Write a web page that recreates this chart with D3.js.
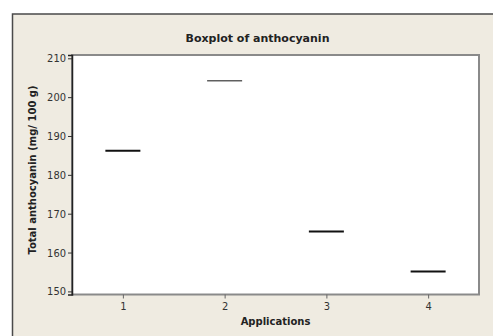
<!DOCTYPE html>
<html>
<head>
<meta charset="utf-8">
<script src="https://cdn.jsdelivr.net/npm/d3@7"></script>
<style>
  body { margin: 0; background: #fff; }
  svg { display: block; }
</style>
</head>
<body>
<script>
// Chart data
var applications = [1, 2, 3, 4];
var anthocyanin = [186.2, 204.2, 165.4, 155.1];
var yTicks = [150, 160, 170, 180, 190, 200, 210];

var width = 493,
    height = 336;

var margin = {top: 55, right: 14, bottom: 41, left: 72};
var plotW = 479 - margin.left,
    plotH = 294.5 - margin.top;

var svg = d3.select("body").append("svg")
    .attr("width", width)
    .attr("height", height);

// Beige frame
svg.append("rect")
    .attr("x", 12.5).attr("y", 14)
    .attr("width", 500).attr("height", 340)
    .attr("fill", "#efebe1")
    .attr("stroke", "#4a4a4a")
    .attr("stroke-width", 1.5);

var x = d3.scaleLinear().domain([0.5, 4.5]).range([0, plotW]);
var y = d3.scaleLinear().domain([149.2, 210.85]).range([plotH, 0]);

var tickFont = "'DejaVu Sans Condensed', 'DejaVu Sans', sans-serif";
var boldFont = "'DejaVu Sans', sans-serif";

var g = svg.append("g")
    .attr("transform", "translate(" + margin.left + "," + margin.top + ")");

// plot area with gray border
g.append("rect")
    .attr("width", plotW).attr("height", plotH)
    .attr("fill", "#fff")
    .attr("stroke", "#8a8a8a")
    .attr("stroke-width", 2);

// left axis
var yAxis = g.append("g")
    .call(d3.axisLeft(y).tickValues(yTicks).tickFormat(d3.format("d")).tickSize(4).tickPadding(2));
yAxis.select(".domain").attr("stroke", "#222").attr("stroke-width", 1.5);
yAxis.selectAll(".tick line").attr("stroke", "#333");
yAxis.selectAll("text")
    .attr("fill", "#333")
    .style("font-family", tickFont)
    .style("font-size", "11px");

// bottom axis
var xAxis = g.append("g")
    .attr("transform", "translate(0," + plotH + ")")
    .call(d3.axisBottom(x).tickValues(applications).tickFormat(d3.format("d")).tickSize(4).tickPadding(4));
xAxis.select(".domain").remove();
xAxis.selectAll(".tick line").attr("stroke", "#666");
xAxis.selectAll("text")
    .attr("fill", "#333")
    .style("font-family", tickFont)
    .style("font-size", "11px");

// median lines
g.selectAll(".median")
    .data(applications)
  .enter().append("line")
    .attr("class", "median")
    .attr("x1", function(d) { return x(d - 0.172); })
    .attr("x2", function(d) { return x(d + 0.172); })
    .attr("y1", function(d, i) { return y(anthocyanin[i]); })
    .attr("y2", function(d, i) { return y(anthocyanin[i]); })
    .attr("stroke", "#111")
    .attr("stroke-width", function(d) { return d === 2 ? 1 : 2; });

// Titles
svg.append("text")
    .attr("x", 257.5).attr("y", 42)
    .attr("text-anchor", "middle")
    .style("font-family", boldFont)
    .style("font-weight", "bold")
    .style("font-size", "11px")
    .attr("fill", "#222")
    .text("Boxplot of anthocyanin");

svg.append("text")
    .attr("x", margin.left + plotW / 2).attr("y", 325)
    .attr("text-anchor", "middle")
    .style("font-family", boldFont)
    .style("font-weight", "bold")
    .style("font-size", "10px")
    .attr("fill", "#222")
    .text("Applications");

svg.append("text")
    .attr("transform", "translate(36," + 170 + ") rotate(-90)")
    .attr("text-anchor", "middle")
    .style("font-family", boldFont)
    .style("font-weight", "bold")
    .style("font-size", "10px")
    .attr("fill", "#222")
    .text("Total anthocyanin (mg/ 100 g)");
</script>
</body>
</html>
